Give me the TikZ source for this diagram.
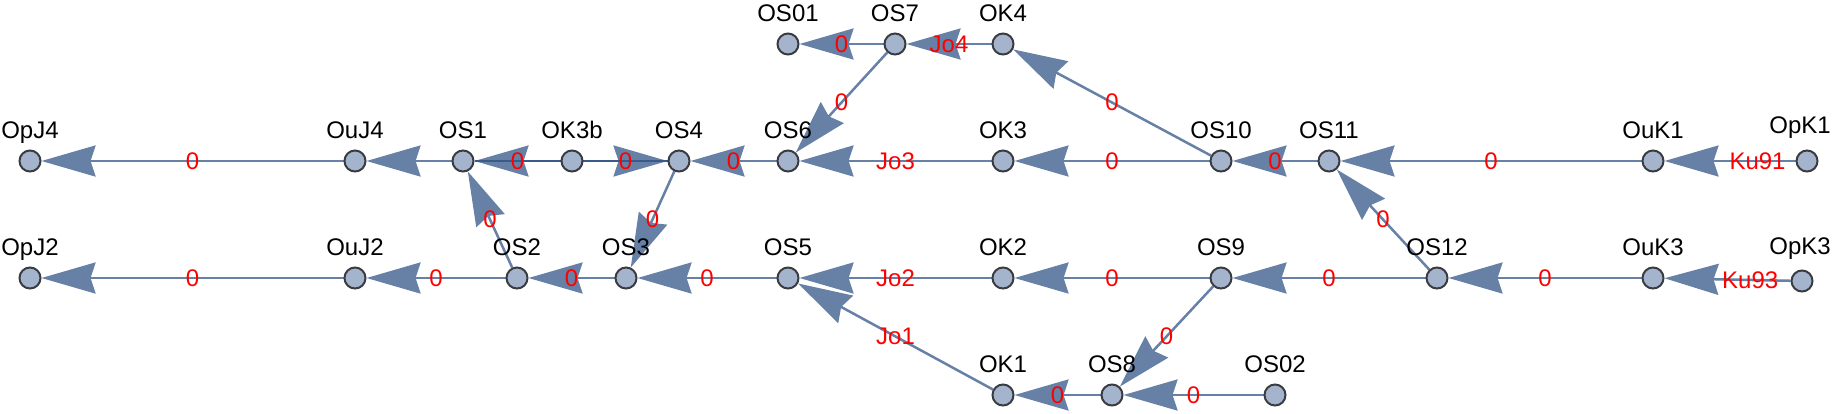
\documentclass[tikz,border=0pt]{standalone}
\usepackage{fontspec}
\setmainfont{Liberation Sans}
\usetikzlibrary{arrows.meta}
\definecolor{vfill}{RGB}{163,180,204}
\definecolor{vborder}{RGB}{58,60,66}
\definecolor{ecol}{RGB}{103,128,166}
\definecolor{ecoldark}{RGB}{58,90,139}
\pgfdeclarelayer{edges}
\pgfsetlayers{edges,main}
\tikzset{
  vtx/.style={circle, draw=vborder, fill=vfill, line width=2pt, minimum size=21pt, inner sep=0pt},
  vlab/.style={font=\fontsize{24pt}{24pt}\selectfont, anchor=base, text=black, inner sep=0pt},
  elab/.style={font=\fontsize{24pt}{24pt}\selectfont, anchor=center, text=red, inner sep=0pt},
  arr/.style={draw=ecol, line width=2.5pt, -{Stealth[length=54pt,width=31pt,inset=5pt]}},
  dbl/.style={draw=ecoldark, line width=2.5pt},
}
\begin{document}
\begin{tikzpicture}[x=1pt,y=-1pt]
\useasboundingbox (0,0) rectangle (1833,413);
% vertices
\node[vtx] (OpJ4) at (30,161) {};
\node[vtx] (OuJ4) at (355,161) {};
\node[vtx] (OS1) at (463,161) {};
\node[vtx] (OK3b) at (572,161) {};
\node[vtx] (OS4) at (679,161) {};
\node[vtx] (OS6) at (788,161) {};
\node[vtx] (OK3) at (1003,161) {};
\node[vtx] (OS10) at (1221,161) {};
\node[vtx] (OS11) at (1329,161) {};
\node[vtx] (OuK1) at (1653,161) {};
\node[vtx] (OpK1) at (1807,161) {};
\node[vtx] (OS01) at (788,44) {};
\node[vtx] (OS7) at (895,44) {};
\node[vtx] (OK4) at (1003,44) {};
\node[vtx] (OpJ2) at (30,278) {};
\node[vtx] (OuJ2) at (355,278) {};
\node[vtx] (OS2) at (517,278) {};
\node[vtx] (OS3) at (626,278) {};
\node[vtx] (OS5) at (788,278) {};
\node[vtx] (OK2) at (1003,278) {};
\node[vtx] (OS9) at (1221,278) {};
\node[vtx] (OS12) at (1437,278) {};
\node[vtx] (OuK3) at (1653,278) {};
\node[vtx] (OpK3) at (1802,281) {};
\node[vtx] (OK1) at (1003,395) {};
\node[vtx] (OS8) at (1112,395) {};
\node[vtx] (OS02) at (1275,395) {};
% vertex labels
\node[vlab] (tOpJ4) at (30,138) {OpJ4};
\node[vlab] (tOuJ4) at (355,138) {OuJ4};
\node[vlab] (tOS1) at (463,138) {OS1};
\node[vlab] (tOK3b) at (572,138) {OK3b};
\node[vlab] (tOS4) at (679,138) {OS4};
\node[vlab] (tOS6) at (788,138) {OS6};
\node[vlab] (tOK3) at (1003,138) {OK3};
\node[vlab] (tOS10) at (1221,138) {OS10};
\node[vlab] (tOS11) at (1329,138) {OS11};
\node[vlab] (tOuK1) at (1653,138) {OuK1};
\node[vlab] (tOpK1) at (1800,133) {OpK1};
\node[vlab] (tOS01) at (788,21) {OS01};
\node[vlab] (tOS7) at (895,21) {OS7};
\node[vlab] (tOK4) at (1003,21) {OK4};
\node[vlab] (tOpJ2) at (30,255) {OpJ2};
\node[vlab] (tOuJ2) at (355,255) {OuJ2};
\node[vlab] (tOS2) at (517,255) {OS2};
\node[vlab] (tOS3) at (626,255) {OS3};
\node[vlab] (tOS5) at (788,255) {OS5};
\node[vlab] (tOK2) at (1003,255) {OK2};
\node[vlab] (tOS9) at (1221,255) {OS9};
\node[vlab] (tOS12) at (1437,255) {OS12};
\node[vlab] (tOuK3) at (1653,255) {OuK3};
\node[vlab] (tOpK3) at (1800,254) {OpK3};
\node[vlab] (tOK1) at (1003,372) {OK1};
\node[vlab] (tOS8) at (1112,372) {OS8};
\node[vlab] (tOS02) at (1275,372) {OS02};
% edges
\begin{pgfonlayer}{edges}
\draw[arr] (OuJ4) -- (OpJ4);
\draw[arr] (OS1) -- (OuJ4);
\draw[arr] (OK3b) -- (OS1);
\draw[arr] (OK3b) -- (OS4);
\draw[arr] (OS6) -- (OS4);
\draw[arr] (OK3) -- (OS6);
\draw[arr] (OS10) -- (OK3);
\draw[arr] (OS11) -- (OS10);
\draw[arr] (OuK1) -- (OS11);
\draw[arr] (OpK1) -- (OuK1);
\draw[arr] (OS7) -- (OS01);
\draw[arr] (OK4) -- (OS7);
\draw[arr] (OS10) -- (OK4);
\draw[arr] (OS7) -- (OS6);
\draw[arr] (OuJ2) -- (OpJ2);
\draw[arr] (OS2) -- (OuJ2);
\draw[arr] (OS3) -- (OS2);
\draw[arr] (OS5) -- (OS3);
\draw[arr] (OK2) -- (OS5);
\draw[arr] (OS9) -- (OK2);
\draw[arr] (OS12) -- (OS9);
\draw[arr] (OuK3) -- (OS12);
\draw[arr] (OpK3) -- (OuK3);
\draw[arr] (OS2) -- (OS1);
\draw[arr] (OS4) -- (OS3);
\draw[arr] (OS12) -- (OS11);
\draw[arr] (OS9) -- (OS8);
\draw[arr] (OK1) -- (OS5);
\draw[arr] (OS8) -- (OK1);
\draw[arr] (OS02) -- (OS8);
\draw[dbl] (OS1) -- (OS4);
\end{pgfonlayer}
% edge labels
\path (OuJ4) -- (OpJ4) node[elab,pos=0.5] (e1) {0};
\path (OK3b) -- (OS1) node[elab,pos=0.5] (e2) {0};
\path (OK3b) -- (OS4) node[elab,pos=0.5] (e3) {0};
\path (OS6) -- (OS4) node[elab,pos=0.5] (e4) {0};
\path (OK3) -- (OS6) node[elab,pos=0.5] (e5) {Jo3};
\path (OS10) -- (OK3) node[elab,pos=0.5] (e6) {0};
\path (OS11) -- (OS10) node[elab,pos=0.5] (e7) {0};
\path (OuK1) -- (OS11) node[elab,pos=0.5] (e8) {0};
\path (OpK1) -- (OuK1) node[elab,pos=0.29] (e9) {Ku91};
\path (OS7) -- (OS01) node[elab,pos=0.5] (e10) {0};
\path (OK4) -- (OS7) node[elab,pos=0.5] (e11) {Jo4};
\path (OS10) -- (OK4) node[elab,pos=0.5] (e12) {0};
\path (OS7) -- (OS6) node[elab,pos=0.5] (e13) {0};
\path (OuJ2) -- (OpJ2) node[elab,pos=0.5] (e14) {0};
\path (OS2) -- (OuJ2) node[elab,pos=0.5] (e15) {0};
\path (OS3) -- (OS2) node[elab,pos=0.5] (e16) {0};
\path (OS5) -- (OS3) node[elab,pos=0.5] (e17) {0};
\path (OK2) -- (OS5) node[elab,pos=0.5] (e18) {Jo2};
\path (OS9) -- (OK2) node[elab,pos=0.5] (e19) {0};
\path (OS12) -- (OS9) node[elab,pos=0.5] (e20) {0};
\path (OuK3) -- (OS12) node[elab,pos=0.5] (e21) {0};
\path (OpK3) -- (OuK3) node[elab,pos=0.32] (e22) {Ku93};
\path (OS2) -- (OS1) node[elab,pos=0.5] (e23) {0};
\path (OS4) -- (OS3) node[elab,pos=0.5] (e24) {0};
\path (OS12) -- (OS11) node[elab,pos=0.5] (e25) {0};
\path (OS9) -- (OS8) node[elab,pos=0.5] (e26) {0};
\path (OK1) -- (OS5) node[elab,pos=0.5] (e27) {Jo1};
\path (OS8) -- (OK1) node[elab,pos=0.5] (e28) {0};
\path (OS02) -- (OS8) node[elab,pos=0.5] (e29) {0};
\end{tikzpicture}
\end{document}
